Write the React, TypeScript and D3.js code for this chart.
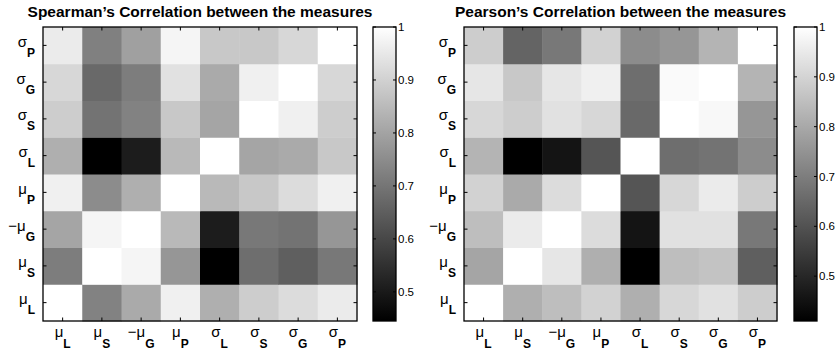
import React from "react";
import * as d3 from "d3";

// variable order (column order, left to right); rows are drawn reversed
const varSymbols = ["μ", "μ", "−μ", "μ", "σ", "σ", "σ", "σ"];
const varSubs = ["L", "S", "G", "P", "L", "S", "G", "P"];

const spearman = [
  [1, 0.728, 0.815, 0.967, 0.826, 0.891, 0.924, 0.956],
  [0.717, 1, 0.978, 0.771, 0.445, 0.684, 0.652, 0.706],
  [0.804, 0.978, 1, 0.848, 0.506, 0.706, 0.695, 0.771],
  [0.967, 0.75, 0.826, 1, 0.848, 0.88, 0.924, 0.967],
  [0.826, 0.445, 0.506, 0.848, 1, 0.804, 0.815, 0.88],
  [0.891, 0.695, 0.728, 0.88, 0.804, 1, 0.967, 0.891],
  [0.913, 0.673, 0.717, 0.935, 0.815, 0.967, 1, 0.913],
  [0.956, 0.724, 0.793, 0.978, 0.88, 0.88, 0.913, 1],
];

const pearson = [
  [1, 0.815, 0.85, 0.896, 0.815, 0.908, 0.931, 0.884],
  [0.792, 1, 0.942, 0.815, 0.41, 0.85, 0.861, 0.63],
  [0.85, 0.954, 1, 0.919, 0.456, 0.931, 0.931, 0.688],
  [0.896, 0.803, 0.919, 1, 0.607, 0.908, 0.954, 0.884],
  [0.827, 0.41, 0.456, 0.607, 1, 0.665, 0.676, 0.734],
  [0.908, 0.884, 0.931, 0.908, 0.653, 1, 0.984, 0.757],
  [0.942, 0.873, 0.942, 0.965, 0.665, 0.989, 1, 0.827],
  [0.884, 0.641, 0.688, 0.896, 0.734, 0.757, 0.827, 1],
];

const cbTicks = [0.5, 0.6, 0.7, 0.8, 0.9, 1];

const W = 837;
const H = 353;
const top = 27;
const bottom = 321;
const font = "'Liberation Sans', Arial, Helvetica, sans-serif";

const idx = d3.range(8);

function Label({ i, x, y, anchor, sub }: { i: number; x: number; y: number; anchor: string; sub: number }) {
  return (
    <text x={x} y={y} textAnchor={anchor} fontFamily={font} fill="#000">
      <tspan fontSize={15}>{varSymbols[i]}</tspan>
      <tspan fontSize={12} fontWeight="bold" dy={sub}>
        {varSubs[i]}
      </tspan>
    </text>
  );
}

function Heatmap({
  title,
  data,
  left,
  right,
  cbLeft,
  cmin,
}: {
  title: string;
  data: number[][];
  left: number;
  right: number;
  cbLeft: number;
  cmin: number;
}) {
  const x = d3.scaleBand<number>().domain(idx).range([left, right]);
  const y = d3.scaleBand<number>().domain([...idx].reverse()).range([top, bottom]);
  const color = d3.scaleLinear<string>().domain([cmin, 1]).range(["#000000", "#ffffff"]).clamp(true);
  const cbW = 23;
  const cy = d3.scaleLinear().domain([cmin, 1]).range([bottom, top]);
  const gid = "cb" + left;
  const tl = 3.5;

  return (
    <g>
      <text
        x={(left + right) / 2}
        y={17}
        textAnchor="middle"
        fontFamily={font}
        fontWeight="bold"
        fontSize={15.5}
      >
        {title}
      </text>
      {idx.map((r) =>
        idx.map((c) => (
          <rect
            key={r + "-" + c}
            x={x(c)}
            y={y(r)}
            width={x.bandwidth() + 0.5}
            height={y.bandwidth() + 0.5}
            fill={color(data[r][c])}
          />
        ))
      )}
      {idx.map((i) => {
        const cx = (x(i) as number) + x.bandwidth() / 2;
        const ry = (y(i) as number) + y.bandwidth() / 2;
        return (
          <g key={"t" + i} stroke="#000" strokeWidth={1}>
            <line x1={cx} x2={cx} y1={bottom} y2={bottom - tl} />
            <line x1={cx} x2={cx} y1={top} y2={top + tl} />
            <line x1={left} x2={left + tl} y1={ry} y2={ry} />
            <line x1={right} x2={right - tl} y1={ry} y2={ry} />
          </g>
        );
      })}
      <rect x={left} y={top} width={right - left} height={bottom - top} fill="none" stroke="#000" strokeWidth={1.3} />
      {idx.map((i) => (
        <Label key={"xl" + i} i={i} x={(x(i) as number) + x.bandwidth() / 2} y={337} anchor="middle" sub={11} />
      ))}
      {idx.map((i) => (
        <Label key={"yl" + i} i={i} x={left - 8} y={(y(i) as number) + y.bandwidth() / 2 + 1.5} anchor="end" sub={10} />
      ))}

      <defs>
        <linearGradient id={gid} x1="0" y1="1" x2="0" y2="0">
          <stop offset="0%" stopColor="#000" />
          <stop offset="100%" stopColor="#fff" />
        </linearGradient>
      </defs>
      <rect x={cbLeft} y={top} width={cbW} height={bottom - top} fill={`url(#${gid})`} stroke="#000" strokeWidth={1.3} />
      {cbTicks.map((t) => (
        <g key={"cb" + t}>
          <line x1={cbLeft} x2={cbLeft + 3} y1={cy(t)} y2={cy(t)} stroke="#000" />
          <line x1={cbLeft + cbW} x2={cbLeft + cbW - 3} y1={cy(t)} y2={cy(t)} stroke="#000" />
          <text
            x={cbLeft + cbW + 2}
            y={cy(t)}
            dy="0.35em"
            fontFamily={font}
            fontSize={11.5}
          >
            {t === 1 ? "1" : t.toFixed(1)}
          </text>
        </g>
      ))}
    </g>
  );
}

export default function App() {
  return (
    <svg
      width={W}
      height={H}
      style={{ position: "absolute", left: 0, top: 0, background: "#fff" }}
    >
      <Heatmap title="Spearman’s Correlation between the measures" data={spearman} left={43} right={357} cbLeft={373} cmin={0.445} />
      <Heatmap title="Pearson’s Correlation between the measures" data={pearson} left={464} right={777} cbLeft={794} cmin={0.41} />
    </svg>
  );
}
